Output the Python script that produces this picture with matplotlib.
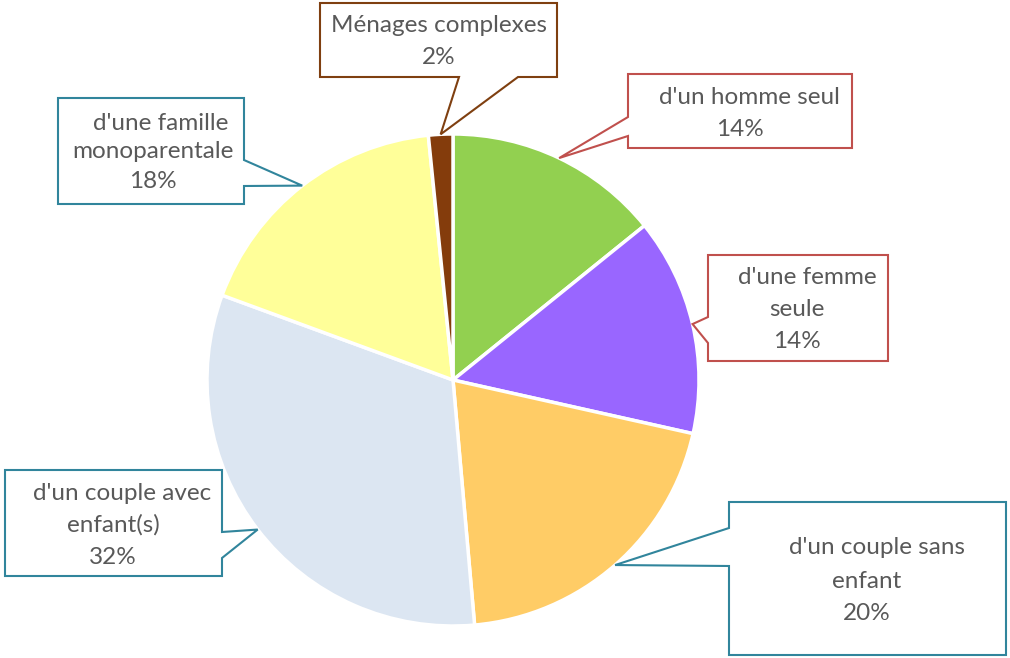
import numpy as np
import matplotlib
matplotlib.use("Agg")
import matplotlib.pyplot as plt
from matplotlib.patches import Polygon

W, H = 1010, 658

categories = ["d'un homme seul", "d'une femme\nseule", "d'un couple sans\nenfant",
              "d'un couple avec\nenfant(s)", "d'une famille\nmonoparentale", "Ménages complexes"]
values = [14.2, 14.3, 20.1, 32.0, 17.8, 1.6]
colors = ["#92D050", "#9966FF", "#FFCC66", "#DCE6F2", "#FFFF99", "#843C0C"]
edge_colors = ["#C0504D", "#C0504D", "#31859C", "#31859C", "#31859C", "#7F3F10"]

# callout layout, in pixels (y from top): box, notch side, notch base, text x (first line, others), first line y
boxes = [(628, 74, 852, 148), (708, 255, 888, 361), (729, 502, 1006, 655),
         (5, 470, 222, 576), (58, 98, 244, 204), (320, 3, 557, 77)]
notch_side = ["left", "left", "left", "right", "right", "bottom"]
notch_base = [(117, 136), (317, 343), (528, 566), (532, 558), (160, 186), (459, 518)]
text_x = [(749, 740), (807, 797), (877, 867), (122, 113), (161, 153), (439, 439)]
text_y = [97, 278, 548, 493, 123, 25]
line_gap = [33, 32, 33, 32, 29, 33]

fig = plt.figure(figsize=(W / 100, H / 100), dpi=100)
ax = fig.add_axes([0, 0, 1, 1])

cx, cy, r = 453, H - 380, 246
wedges, _ = ax.pie(values, colors=colors, startangle=90, counterclock=False,
                   center=(cx, cy), radius=r,
                   wedgeprops=dict(edgecolor="white", linewidth=2.5))
ax.set_xlim(0, W)
ax.set_ylim(0, H)
ax.set_aspect("equal")
ax.axis("off")


def callout_path(box, side, base, tip):
    x0, y0, x1, y1 = box
    b0, b1 = base
    if side == "left":
        pts = [(x0, y0), (x1, y0), (x1, y1), (x0, y1), (x0, b1), tip, (x0, b0)]
    elif side == "right":
        pts = [(x0, y0), (x1, y0), (x1, b0), tip, (x1, b1), (x1, y1), (x0, y1)]
    else:
        pts = [(x0, y0), (x1, y0), (x1, y1), (b1, y1), tip, (b0, y1), (x0, y1)]
    return [(px, H - py) for px, py in pts]


for i, w in enumerate(wedges):
    mid = np.deg2rad((w.theta1 + w.theta2) / 2)
    tip = (cx + r * np.cos(mid), H - (cy + r * np.sin(mid)))
    poly = Polygon(callout_path(boxes[i], notch_side[i], notch_base[i], tip), closed=True,
                   facecolor="white", edgecolor=edge_colors[i], linewidth=1.5, zorder=5)
    ax.add_patch(poly)
    lines = categories[i].split("\n") + [f"{round(values[i])}%"]
    for j, line in enumerate(lines):
        x = text_x[i][0] if j == 0 else text_x[i][1]
        ax.text(x, H - (text_y[i] + j * line_gap[i]), line, ha="center", va="center",
                fontsize=17.5, color="#595959", family="Lato", zorder=6)

fig.savefig("out.png", dpi=100)
